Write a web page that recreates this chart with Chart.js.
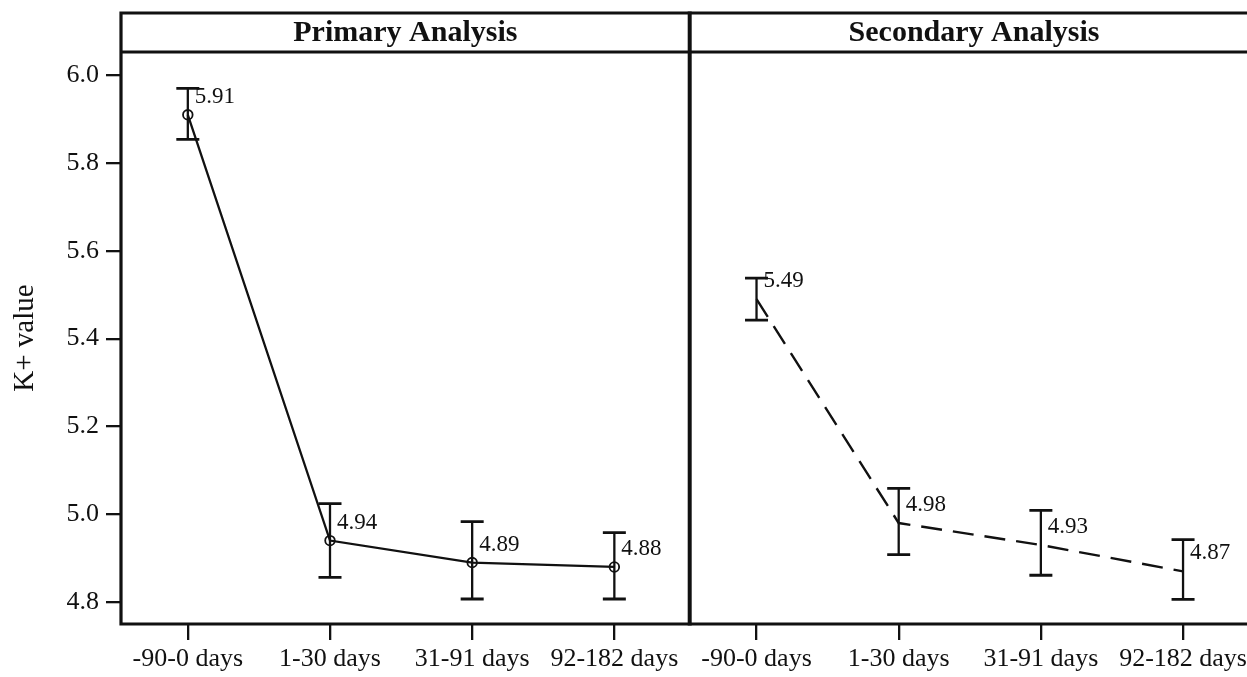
<!DOCTYPE html>
<html><head><meta charset="utf-8">
<script src="https://cdn.jsdelivr.net/npm/chart.js@4.4.1/dist/chart.umd.min.js"></script>
<style>
html,body{margin:0;padding:0;background:#fff;overflow:hidden;width:1247px;height:677px;}
#wrap{position:relative;width:1265px;height:677px;}
</style></head><body>
<div id="wrap"><canvas id="c" width="1265" height="677"></canvas></div>
<script>
// ---- data ----
const categories = ['-90-0 days', '1-30 days', '31-91 days', '92-182 days'];
const panels = ['Primary Analysis', 'Secondary Analysis'];
const primaryMean  = [5.91, 4.94, 4.89, 4.88];
const primaryUpper = [5.970, 5.024, 4.983, 4.958];
const primaryLower = [5.854, 4.856, 4.807, 4.807];
const secondaryMean  = [5.49, 4.98, 4.93, 4.87];
const secondaryUpper = [5.538, 5.059, 5.009, 4.942];
const secondaryLower = [5.442, 4.908, 4.861, 4.806];
const yTicks = [4.8, 5.0, 5.2, 5.4, 5.6, 5.8, 6.0];
const yTitle = 'K+ value';

// ---- layout / style ----
const INK = '#111';
const N = categories.length;
const X_MIN = -0.47, X_MAX = 2 * N - 0.47, SEP = N - 0.47;
const HEADER_TOP = 13;

const series = [
  {mean: primaryMean, up: primaryUpper, lo: primaryLower, offset: 0},
  {mean: secondaryMean, up: secondaryUpper, lo: secondaryLower, offset: N}
];

const framePlugin = {
  id: 'frame',
  afterDatasetsDraw(chart) {
    const {ctx, chartArea: ca, scales: {x, y}} = chart;
    ctx.save();
    ctx.strokeStyle = INK;
    series.forEach(s => {
      s.mean.forEach((m, i) => {
        const px = x.getPixelForValue(i + s.offset);
        const pu = y.getPixelForValue(s.up[i]);
        const pl = y.getPixelForValue(s.lo[i]);
        ctx.lineWidth = 2.3;
        ctx.beginPath(); ctx.moveTo(px, pu); ctx.lineTo(px, pl); ctx.stroke();
        ctx.lineWidth = 2.8;
        ctx.beginPath();
        ctx.moveTo(px - 11.5, pu); ctx.lineTo(px + 11.5, pu);
        ctx.moveTo(px - 11.5, pl); ctx.lineTo(px + 11.5, pl);
        ctx.stroke();
        ctx.fillStyle = INK;
        ctx.font = '23px "Liberation Serif", serif';
        ctx.textAlign = 'left';
        ctx.textBaseline = 'middle';
        ctx.fillText(m.toFixed(2), px + 7, y.getPixelForValue(m) - 18);
      });
    });
    const xl = ca.left, xs = x.getPixelForValue(SEP), xr = x.getPixelForValue(X_MAX);
    ctx.lineWidth = 3.2;
    ctx.beginPath();
    ctx.moveTo(xl, HEADER_TOP); ctx.lineTo(xr, HEADER_TOP);
    ctx.moveTo(xl, ca.top); ctx.lineTo(xr, ca.top);
    ctx.moveTo(xl, ca.bottom); ctx.lineTo(xr, ca.bottom);
    ctx.moveTo(xl, HEADER_TOP - 1.5); ctx.lineTo(xl, ca.bottom + 1.5);
    ctx.moveTo(xr - 1, HEADER_TOP - 1.5); ctx.lineTo(xr - 1, ca.bottom + 1.5);
    ctx.stroke();
    ctx.lineWidth = 4;
    ctx.beginPath();
    ctx.moveTo(xs, HEADER_TOP - 1.5); ctx.lineTo(xs, ca.bottom + 1.5);
    ctx.stroke();
    ctx.fillStyle = INK;
    ctx.font = 'bold 30px "Liberation Serif", serif';
    ctx.textAlign = 'center';
    ctx.textBaseline = 'middle';
    ctx.fillText(panels[0], (xl + xs) / 2, (HEADER_TOP + ca.top) / 2 + 1);
    ctx.fillText(panels[1], (xs + xr) / 2, (HEADER_TOP + ca.top) / 2 + 1);
    ctx.restore();
  }
};

new Chart(document.getElementById('c'), {
  type: 'line',
  data: {
    datasets: [
      {
        label: panels[0],
        data: primaryMean.map((v, i) => ({x: i, y: v})),
        borderColor: INK, borderWidth: 2.3,
        pointRadius: 4.8, pointBorderWidth: 1.8, pointBorderColor: INK,
        pointBackgroundColor: 'rgba(0,0,0,0)', tension: 0
      },
      {
        label: panels[1],
        data: secondaryMean.map((v, i) => ({x: i + N, y: v})),
        borderColor: INK, borderWidth: 2.4, borderDash: [21, 11],
        pointRadius: 0, tension: 0
      }
    ]
  },
  options: {
    responsive: false,
    animation: false,
    devicePixelRatio: 1,
    layout: {padding: {top: 52, left: 0, right: 0, bottom: 0}},
    plugins: {legend: {display: false}, tooltip: {enabled: false}},
    scales: {
      x: {
        type: 'linear', min: X_MIN, max: X_MAX,
        afterBuildTicks: s => { s.ticks = Array.from({length: 2 * N}, (_, i) => ({value: i})); },
        afterFit: s => { s.height = 53; },
        border: {display: false},
        grid: {drawOnChartArea: false, drawTicks: true, tickLength: 16, lineWidth: 2.3, tickColor: INK, color: INK},
        ticks: {
          autoSkip: false, maxRotation: 0, padding: 4, color: INK,
          font: {family: '"Liberation Serif", serif', size: 26},
          callback: v => categories[((v % N) + N) % N]
        }
      },
      y: {
        type: 'linear', min: 4.75, max: 6.053,
        afterBuildTicks: s => { s.ticks = yTicks.map(v => ({value: v})); },
        afterFit: s => { s.width = 121; },
        border: {display: false},
        grid: {drawOnChartArea: false, drawTicks: true, tickLength: 15, lineWidth: 2.3, tickColor: INK, color: INK},
        ticks: {
          padding: 7, color: INK,
          font: {family: '"Liberation Serif", serif', size: 26},
          callback: v => Number(v).toFixed(1)
        },
        title: {
          display: true, text: yTitle, color: INK,
          font: {family: '"Liberation Serif", serif', size: 29},
          padding: {top: 8, bottom: 0}
        }
      }
    }
  },
  plugins: [framePlugin]
});
</script>
</body></html>
